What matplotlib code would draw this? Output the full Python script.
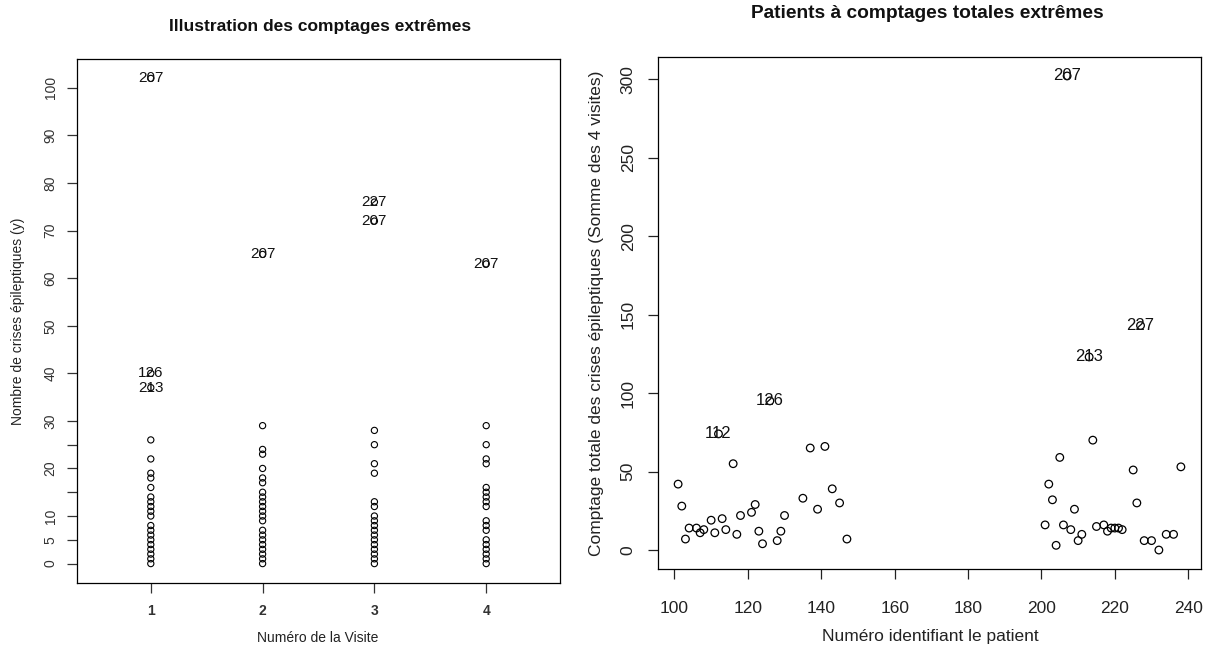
"""Comptages extrêmes de crises épileptiques — deux panneaux"""

import matplotlib
matplotlib.use("Agg")
import matplotlib.pyplot as plt

plt.rcParams.update({
    "font.family": ["Liberation Sans", "DejaVu Sans"],
    "axes.linewidth": 0.9,
    "xtick.major.width": 0.9,
    "ytick.major.width": 0.9,
})

# ── 1. Données : valeurs distinctes par visite (panneau gauche) ───────────
visite1 = [0, 1, 2, 3, 4, 5, 6, 7, 8, 10, 11, 12, 13, 14, 16, 18, 19, 22, 26, 37, 40, 102]
visite2 = [0, 1, 2, 3, 4, 5, 6, 7, 9, 10, 11, 12, 13, 14, 15, 17, 18, 20, 23, 24, 29, 65]
visite3 = [0, 1, 2, 3, 4, 5, 6, 7, 8, 9, 10, 12, 13, 19, 21, 25, 28, 72, 76]
visite4 = [0, 1, 2, 3, 4, 5, 7, 8, 9, 12, 13, 14, 15, 16, 21, 22, 25, 29, 63]
visites = [visite1, visite2, visite3, visite4]

# patients extrêmes annotés : (visite, valeur, id)
extremes_visite = [1, 1, 1, 2, 3, 3, 4]
extremes_valeur = [102, 40, 37, 65, 76, 72, 63]
extremes_id = ["207", "126", "213", "207", "227", "207", "207"]

# ── 2. Données : total des 4 visites par patient (panneau droit) ─────────
patient_id = [101, 102, 103, 104, 106, 107, 108, 110, 111, 112, 113, 114, 116, 117, 118,
              121, 122, 123, 124, 126, 128, 129, 130, 135, 137, 139, 141, 143, 145, 147,
              201, 202, 203, 204, 205, 206, 207, 208, 209, 210, 211, 213, 214, 215, 217,
              218, 219, 220, 221, 222, 225, 226, 227, 228, 230, 232, 234, 236, 238]
total = [42, 28, 7, 14, 14, 11, 13, 19, 11, 74, 20, 13, 55, 10, 22,
         24, 29, 12, 4, 95, 6, 12, 22, 33, 65, 26, 66, 39, 30, 7,
         16, 42, 32, 3, 59, 16, 302, 13, 26, 6, 10, 123, 70, 15, 16,
         12, 14, 14, 14, 13, 51, 30, 143, 6, 6, 0, 10, 10, 53]
patients_extremes = [112, 126, 207, 213, 227]

# ── 3. Figure ─────────────────────────────────────────────────────────────
fig = plt.figure(figsize=(12.09, 6.48), dpi=100)
W, H = 1209, 648

def pos(x0, x1, y0, y1):
    return [x0 / W, 1 - y1 / H, (x1 - x0) / W, (y1 - y0) / H]

ax1 = fig.add_axes(pos(77, 560, 59, 583))
ax2 = fig.add_axes(pos(658, 1201, 57, 569))

# panneau gauche
for v, vals in enumerate(visites, start=1):
    ax1.scatter([v] * len(vals), vals, s=20, facecolors="none",
                edgecolors="black", linewidths=0.8, zorder=3)
for v, y, lab in zip(extremes_visite, extremes_valeur, extremes_id):
    ax1.text(v, y, lab, fontsize=11, ha="center", va="center", color="#111", zorder=4)

ax1.set_xlim(0.34, 4.66)
ax1.set_ylim(-4.08, 106.08)
ax1.set_xticks([1, 2, 3, 4])
ax1.set_xticklabels(["1", "2", "3", "4"], fontweight="bold", fontsize=10)
yt = [0, 5, 10, 15, 20, 25, 30, 40, 50, 60, 70, 80, 90, 100]
ax1.set_yticks(yt)
ax1.set_yticklabels(["" if t in (15, 25) else str(t) for t in yt],
                    rotation=90, va="center", fontsize=10, color="#333")
ax1.tick_params(axis="x", length=7, pad=8, colors="#333")
ax1.tick_params(axis="y", length=7, pad=7, colors="#333")
fig.text(318 / W, 1 - 638 / H, "Numéro de la Visite", fontsize=10, color="#222",
         ha="center", va="center")
fig.text(18 / W, 1 - 321 / H, "Nombre de crises épileptiques (y)", fontsize=10,
         color="#222", rotation=90, ha="center", va="center")
fig.text(320 / W, 1 - 27 / H, "Illustration des comptages extrêmes",
         ha="center", va="center", fontsize=12.5, fontweight="bold", color="#111")

# panneau droit
ax2.scatter(patient_id, total, s=30, facecolors="none",
            edgecolors="black", linewidths=0.9, zorder=3)
for pid, t in zip(patient_id, total):
    if pid in patients_extremes:
        ax2.text(pid, t, str(pid), fontsize=12, ha="center", va="center",
                 color="#111", zorder=4)

ax2.set_xlim(95.52, 243.48)
ax2.set_ylim(-12.08, 314.08)
ax2.set_xticks(range(100, 241, 20))
ax2.set_yticks(range(0, 301, 50))
ax2.tick_params(axis="x", labelsize=12.5, length=7, pad=16, colors="#222")
ax2.tick_params(axis="y", labelsize=12.5, length=7, pad=9, colors="#222")
for lab in ax2.get_yticklabels():
    lab.set_rotation(90)
    lab.set_va("center")
fig.text(930 / W, 1 - 636 / H, "Numéro identifiant le patient", fontsize=12.5,
         color="#222", ha="center", va="center")
fig.text(596 / W, 1 - 313 / H,
         "Comptage totale des crises épileptiques (Somme des 4 visites)",
         fontsize=12.5, color="#222", rotation=90, ha="center", va="center")
fig.text(927 / W, 1 - 14 / H, "Patients à comptages totales extrêmes",
         ha="center", va="center", fontsize=13.8, fontweight="bold", color="#111")

fig.savefig("out.png", dpi=100, facecolor="white")
plt.close(fig)
